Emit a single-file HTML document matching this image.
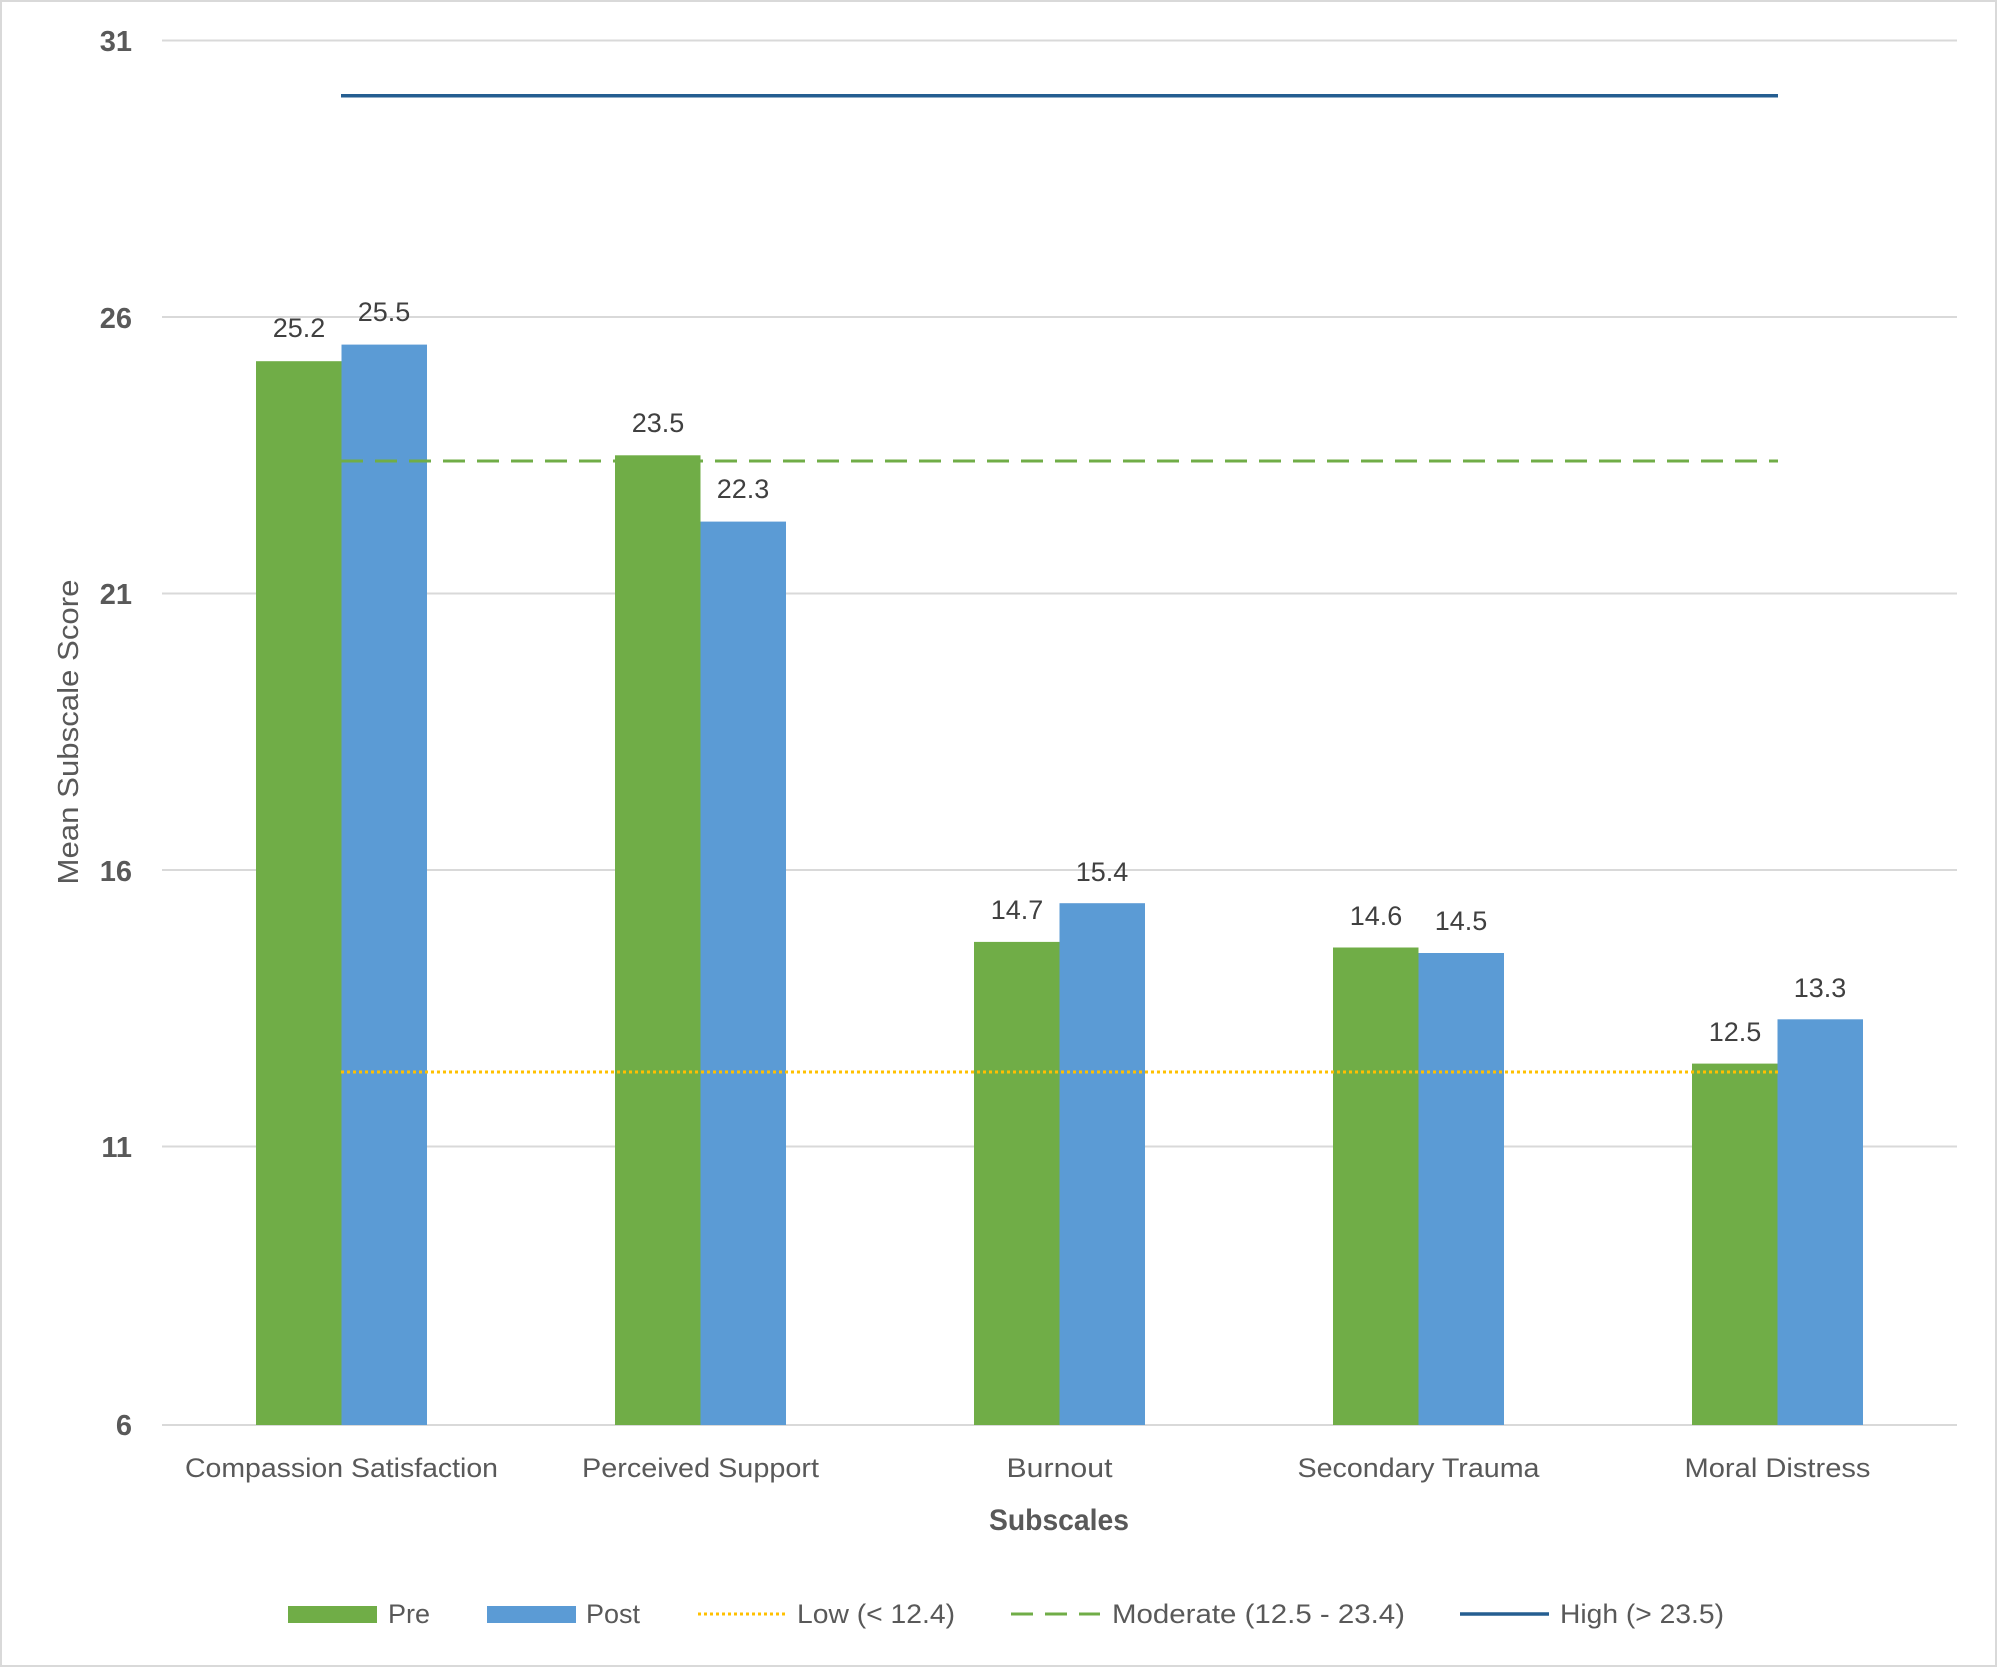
<!DOCTYPE html>
<html><head><meta charset="utf-8"><style>body{margin:0;background:#fff}svg{display:block}</style></head><body>
<svg width="1997" height="1667" xmlns="http://www.w3.org/2000/svg" font-family="'Liberation Sans Narrow','Liberation Sans',sans-serif" fill="#404040">
<rect x="1" y="1" width="1995" height="1665" fill="#fff" stroke="#d9d9d9" stroke-width="2"/>
<g stroke="#d9d9d9" stroke-width="2">
<line x1="162" y1="40.5" x2="1957" y2="40.5"/>
<line x1="162" y1="317" x2="1957" y2="317"/>
<line x1="162" y1="593.5" x2="1957" y2="593.5"/>
<line x1="162" y1="870" x2="1957" y2="870"/>
<line x1="162" y1="1146.5" x2="1957" y2="1146.5"/>
<line x1="162" y1="1425" x2="1957" y2="1425"/>
</g>
<g font-weight="bold" font-size="29" fill="#595959" text-anchor="end">
<text x="132" y="51">31</text><text x="132" y="328">26</text><text x="132" y="604">21</text>
<text x="132" y="881">16</text><text x="132" y="1157">11</text><text x="132" y="1435">6</text>
</g>
<g fill="#70ad47">
<rect x="256" y="361.2" width="85.5" height="1063.8"/>
<rect x="615" y="455.3" width="85.5" height="969.7"/>
<rect x="974" y="941.9" width="85.5" height="483.1"/>
<rect x="1333" y="947.5" width="85.5" height="477.5"/>
<rect x="1692" y="1063.6" width="85.5" height="361.4"/>
</g>
<g fill="#5b9bd5">
<rect x="341.5" y="344.6" width="85.5" height="1080.4"/>
<rect x="700.5" y="521.6" width="85.5" height="903.4"/>
<rect x="1059.5" y="903.2" width="85.5" height="521.8"/>
<rect x="1418.5" y="953" width="85.5" height="472"/>
<rect x="1777.5" y="1019.3" width="85.5" height="405.7"/>
</g>
<line x1="341" y1="95.8" x2="1778" y2="95.8" stroke="#255e91" stroke-width="3.5"/>
<line x1="341" y1="461" x2="1778" y2="461" stroke="#70ad47" stroke-width="3" stroke-dasharray="22,12"/>
<line x1="341" y1="1072" x2="1778" y2="1072" stroke="#ffc000" stroke-width="3" stroke-dasharray="3,3"/>
<g font-size="27" text-anchor="middle">
<text x="299" y="337">25.2</text><text x="384" y="321">25.5</text>
<text x="658" y="432">23.5</text><text x="743" y="498">22.3</text>
<text x="1017" y="919">14.7</text><text x="1102" y="881">15.4</text>
<text x="1376" y="925">14.6</text><text x="1461" y="930">14.5</text>
<text x="1735" y="1041">12.5</text><text x="1820" y="997">13.3</text>
</g>
<g font-size="27" text-anchor="middle" fill="#595959">
<text x="341.5" y="1477" textLength="313" lengthAdjust="spacingAndGlyphs">Compassion Satisfaction</text>
<text x="700.5" y="1477" textLength="237" lengthAdjust="spacingAndGlyphs">Perceived Support</text>
<text x="1059.5" y="1477" textLength="106" lengthAdjust="spacingAndGlyphs">Burnout</text>
<text x="1418.5" y="1477" textLength="242" lengthAdjust="spacingAndGlyphs">Secondary Trauma</text>
<text x="1777.5" y="1477" textLength="186" lengthAdjust="spacingAndGlyphs">Moral Distress</text>
</g>
<text x="1059" y="1530" font-size="30" font-weight="bold" text-anchor="middle" fill="#595959" textLength="140" lengthAdjust="spacingAndGlyphs">Subscales</text>
<text transform="translate(78,732) rotate(-90)" font-size="29" text-anchor="middle" fill="#595959" textLength="305" lengthAdjust="spacingAndGlyphs">Mean Subscale Score</text>
<g font-size="27" fill="#595959">
<rect x="288" y="1606" width="89" height="17" fill="#70ad47"/>
<text x="388" y="1623">Pre</text>
<rect x="487" y="1606" width="89" height="17" fill="#5b9bd5"/>
<text x="586" y="1623">Post</text>
<line x1="698" y1="1614" x2="787" y2="1614" stroke="#ffc000" stroke-width="3" stroke-dasharray="3,3"/>
<text x="797" y="1623" textLength="158" lengthAdjust="spacingAndGlyphs">Low (&lt; 12.4)</text>
<line x1="1011" y1="1614" x2="1100" y2="1614" stroke="#70ad47" stroke-width="3" stroke-dasharray="22,12"/>
<text x="1112" y="1623" textLength="293" lengthAdjust="spacingAndGlyphs">Moderate (12.5 - 23.4)</text>
<line x1="1460" y1="1614" x2="1549" y2="1614" stroke="#255e91" stroke-width="3.5"/>
<text x="1560" y="1623" textLength="164" lengthAdjust="spacingAndGlyphs">High (&gt; 23.5)</text>
</g>
</svg>
</body></html>
